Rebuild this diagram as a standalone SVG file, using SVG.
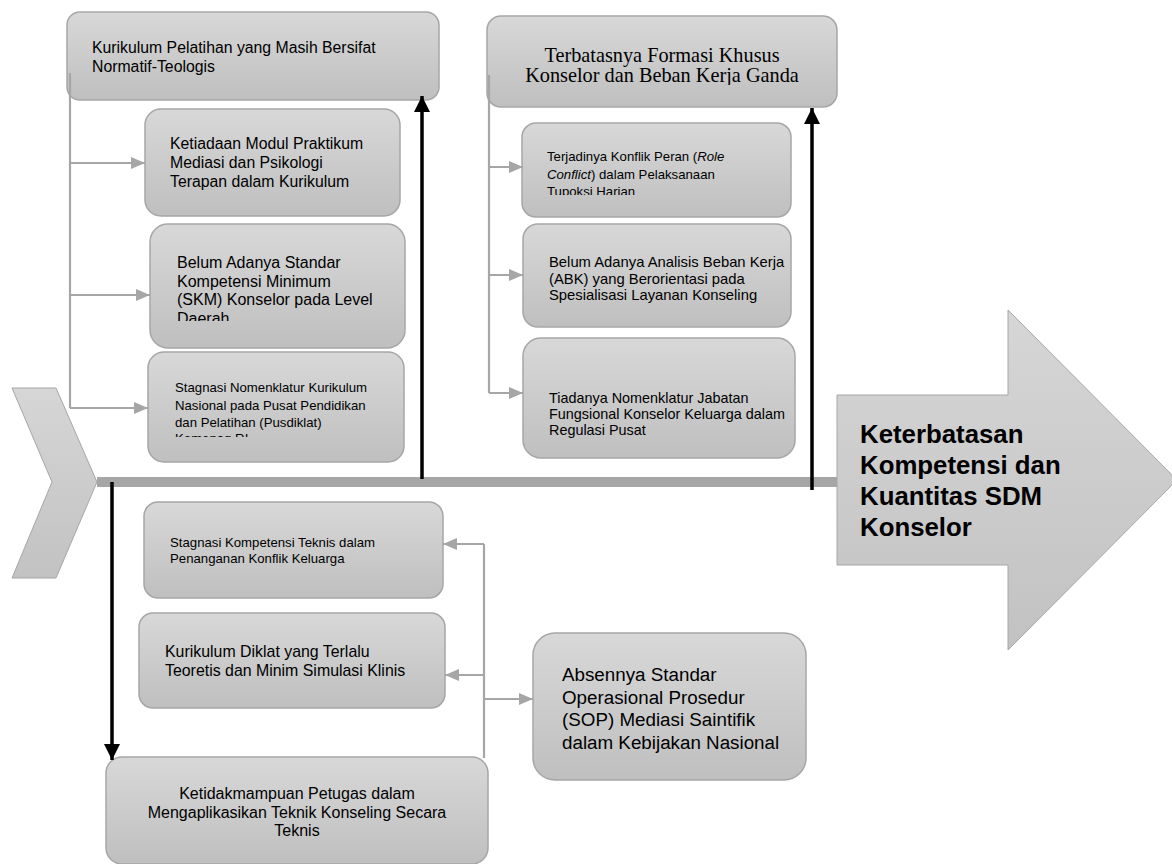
<svg xmlns="http://www.w3.org/2000/svg" width="1172" height="864" viewBox="0 0 1172 864">
<defs>
<linearGradient id="g" x1="0" y1="0" x2="0" y2="1">
<stop offset="0" stop-color="#d8d8d8"/>
<stop offset="1" stop-color="#bfbfbf"/>
</linearGradient>
<linearGradient id="gh" x1="0" y1="0" x2="0" y2="1">
<stop offset="0" stop-color="#d6d6d6"/>
<stop offset="1" stop-color="#c2c2c2"/>
</linearGradient>
<marker id="ga" viewBox="0 0 14 12" refX="14" refY="6" markerWidth="14" markerHeight="12" markerUnits="userSpaceOnUse" orient="auto">
<path d="M0,0 L14,6 L0,12 Z" fill="#a6a6a6"/>
</marker>
<marker id="ba" viewBox="0 0 16 16" refX="16" refY="8" markerWidth="16" markerHeight="16" markerUnits="userSpaceOnUse" orient="auto">
<path d="M0,0 L16,8 L0,16 Z" fill="#000"/>
</marker>
<clipPath id="c3"><rect x="150" y="224" width="255" height="97"/></clipPath>
<clipPath id="c4"><rect x="148" y="352" width="256" height="85"/></clipPath>
<clipPath id="c5"><rect x="487" y="16" width="350" height="69"/></clipPath>
<clipPath id="c6"><rect x="522" y="123" width="269" height="72"/></clipPath>
</defs>
<style>
.box{fill:url(#g);stroke:#a6a6a6;stroke-width:1.5}
.t{font-family:"Liberation Sans",Arial,sans-serif;fill:#000}
.s{font-family:"Liberation Serif","Times New Roman",serif;fill:#000}
.gl{stroke:#a6a6a6;stroke-width:2.2;fill:none}
.bl{stroke:#000;stroke-width:3.5;fill:none}
</style>

<g id="tail">
<polygon points="12,388 56,388 97,482 56,578 12,578 52,482" fill="url(#gh)" stroke="#a6a6a6" stroke-width="1"/>
</g>
<g id="spine">
<rect x="97" y="477" width="741" height="10" fill="#a6a6a6"/>
</g>
<g id="head">
<polygon points="837,395 1008,395 1008,310 1177,480 1008,650 1008,565 837,565" fill="url(#gh)" stroke="#a6a6a6" stroke-width="1"/>
<text class="t" font-size="25.8" font-weight="bold" x="860"><tspan x="860" y="443">Keterbatasan</tspan><tspan x="860" y="474">Kompetensi dan</tspan><tspan x="860" y="505">Kuantitas SDM</tspan><tspan x="860" y="536">Konselor</tspan></text>
</g>

<g id="n1">
<rect class="box" x="67" y="12" width="372" height="88" rx="13"/>
<text class="t" font-size="15.8"><tspan x="92" y="53">Kurikulum Pelatihan yang Masih Bersifat</tspan><tspan x="92" y="72">Normatif-Teologis</tspan></text>
</g>
<g id="n2">
<rect class="box" x="145" y="109" width="255" height="107" rx="16"/>
<text class="t" font-size="15.8"><tspan x="170" y="149">Ketiadaan Modul Praktikum</tspan><tspan x="170" y="168">Mediasi dan Psikologi</tspan><tspan x="170" y="187">Terapan dalam Kurikulum</tspan></text>
</g>
<g id="n3">
<rect class="box" x="150" y="224" width="255" height="124" rx="18"/>
<text class="t" font-size="16" clip-path="url(#c3)"><tspan x="177" y="268">Belum Adanya Standar</tspan><tspan x="177" y="286.5">Kompetensi Minimum</tspan><tspan x="177" y="305">(SKM) Konselor pada Level</tspan><tspan x="177" y="323.5">Daerah</tspan></text>
</g>
<g id="n4">
<rect class="box" x="148" y="352" width="256" height="110" rx="16"/>
<text class="t" font-size="13.2" clip-path="url(#c4)"><tspan x="175" y="392">Stagnasi Nomenklatur Kurikulum</tspan><tspan x="175" y="409.5">Nasional pada Pusat Pendidikan</tspan><tspan x="175" y="427">dan Pelatihan (Pusdiklat)</tspan><tspan x="175" y="442.5">Kemenag RI</tspan></text>
</g>
<g id="n5">
<rect class="box" x="487" y="16" width="350" height="91" rx="14"/>
<text class="s" font-size="20.3" text-anchor="middle" clip-path="url(#c5)"><tspan x="662" y="62">Terbatasnya Formasi Khusus</tspan><tspan x="662" y="82">Konselor dan Beban Kerja Ganda</tspan></text>
</g>
<g id="n6">
<rect class="box" x="522" y="123" width="269" height="94" rx="14"/>
<text class="t" font-size="13.2" clip-path="url(#c6)"><tspan x="547" y="161">Terjadinya Konflik Peran (<tspan font-style="italic">Role</tspan></tspan><tspan x="547" y="178.5"><tspan font-style="italic">Conflict</tspan>) dalam Pelaksanaan</tspan><tspan x="547" y="196">Tupoksi Harian</tspan></text>
</g>
<g id="n7">
<rect class="box" x="523" y="224" width="268" height="103" rx="15"/>
<text class="t" font-size="14.8"><tspan x="549" y="267">Belum Adanya Analisis Beban Kerja</tspan><tspan x="549" y="284">(ABK) yang Berorientasi pada</tspan><tspan x="549" y="300">Spesialisasi Layanan Konseling</tspan></text>
</g>
<g id="n8">
<rect class="box" x="523" y="338" width="272" height="120" rx="18"/>
<text class="t" font-size="14.4"><tspan x="549" y="403">Tiadanya Nomenklatur Jabatan</tspan><tspan x="549" y="419">Fungsional Konselor Keluarga dalam</tspan><tspan x="549" y="434.5">Regulasi Pusat</tspan></text>
</g>
<g id="n9">
<rect class="box" x="144" y="502" width="299" height="96" rx="14"/>
<text class="t" font-size="13.2"><tspan x="170" y="547">Stagnasi Kompetensi Teknis dalam</tspan><tspan x="170" y="562.5">Penanganan Konflik Keluarga</tspan></text>
</g>
<g id="n10">
<rect class="box" x="139" y="613" width="306" height="95" rx="14"/>
<text class="t" font-size="15.9"><tspan x="165" y="657">Kurikulum Diklat yang Terlalu</tspan><tspan x="165" y="675.5">Teoretis dan Minim Simulasi Klinis</tspan></text>
</g>
<g id="n11">
<rect class="box" x="533" y="633" width="273" height="147" rx="22"/>
<text class="t" font-size="18.8"><tspan x="562" y="681">Absennya Standar</tspan><tspan x="562" y="703.5">Operasional Prosedur</tspan><tspan x="562" y="726">(SOP) Mediasi Saintifik</tspan><tspan x="562" y="748.5">dalam Kebijakan Nasional</tspan></text>
</g>
<g id="n12">
<rect class="box" x="106" y="757" width="382" height="107" rx="16"/>
<text class="t" font-size="16" text-anchor="middle"><tspan x="297" y="799">Ketidakmampuan Petugas dalam</tspan><tspan x="297" y="817.5">Mengaplikasikan Teknik Konseling Secara</tspan><tspan x="297" y="836">Teknis</tspan></text>
</g>

<g id="connectors">
<path class="gl" d="M70,73 V408"/>
<path class="gl" d="M70,163 H145" marker-end="url(#ga)"/>
<path class="gl" d="M70,295 H150" marker-end="url(#ga)"/>
<path class="gl" d="M70,408 H148" marker-end="url(#ga)"/>
<path class="gl" d="M489,75 V393"/>
<path class="gl" d="M489,167 H523" marker-end="url(#ga)"/>
<path class="gl" d="M489,275 H523" marker-end="url(#ga)"/>
<path class="gl" d="M489,393 H523" marker-end="url(#ga)"/>
<path class="gl" d="M484,758 V544"/>
<path class="gl" d="M484,544 H443" marker-end="url(#ga)"/>
<path class="gl" d="M484,675 H445" marker-end="url(#ga)"/>
<path class="gl" d="M484,699 H533" marker-end="url(#ga)"/>
<path class="bl" d="M422,479 V96" marker-end="url(#ba)"/>
<path class="bl" d="M812,490 V108" marker-end="url(#ba)"/>
<path class="bl" d="M112,482 V760" marker-end="url(#ba)"/>
</g>
</svg>
